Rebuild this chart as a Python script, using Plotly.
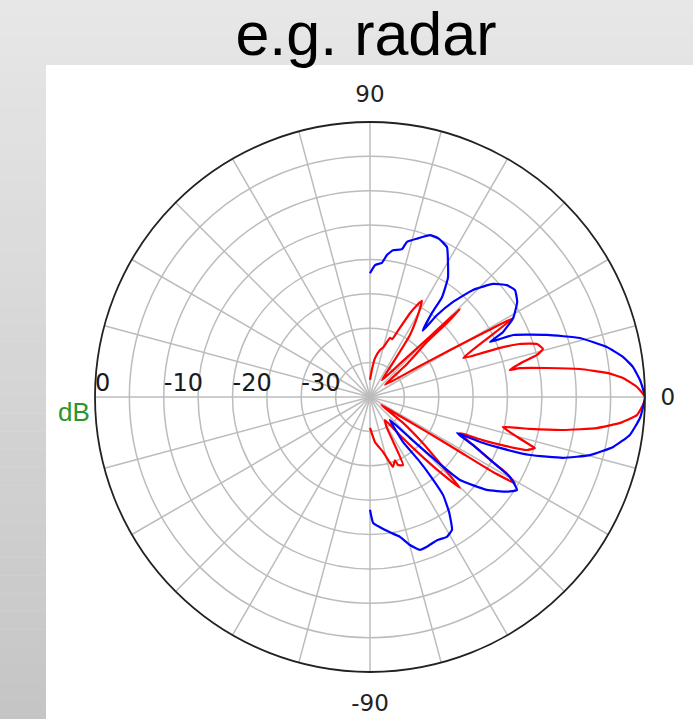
import plotly.graph_objects as go

# ---------------- data ----------------
red_theta = [90, 86, 82.7, 78, 75, 71.3, 69, 67.4, 64.5, 62.9, 61.6, 59.7, 57.2, 56.2, 54.8,
             47.8, 45.8, 44.9, 44.4, 43.9, 44.0, 41.5, 39.0,
             32.0, 30.4, 29.5, 28.9, 26.6, 22.7,
             20.7, 19.5, 17.6, 15.5, 14.1, 12.9, 10.9,
             10.9, 9.3, 7.6, 5.8, 4.3, 2.1, 0,
             -1.7, -3.9, -5.9, -7.8, -9.7, -11.3, -12.7,
             -15.2, -16.7, -17.2, -18.65, -19.9, -21.0, -21.8,
             -25.0, -27.9, -29.05, -30.7, -31.4, -31.4, -31.5, -33.0, -35.0,
             -38.0, -41.0, -43.5, -45.3, -47.0, -49.0, -52.0, -57.0,
             -61.3, -64.1, -67.6, -68.4, -71.8, -73.1, -76.7, -83.7, -90]
red_r = [-37.5, -36, -34.3, -33, -32.5, -30.9, -31, -29.8, -26.5, -25.0, -24.1, -26.2, -29.3, -33.9, -37,
         -33.2, -29.4, -25.5, -21.7, -24.3, -28.5, -33.2, -37.2,
         -31.7, -26.5, -21.4, -16.2, -20.8, -25.3,
         -19.8, -16.9, -14.5, -13.9, -15.0, -17.2, -19.3,
         -17.8, -13.9, -9.2, -5.35, -3.1, -1.1, 0,
         -0.3, -1.1, -3.4, -6.7, -11.5, -16.3, -20.2,
         -17.8, -15.7, -14.9, -15.9, -19.1, -22.5, -25.9,
         -23.5, -19.8, -17.5, -15.5, -19.05, -24.7, -30.3, -36.0, -38.0,
         -34.0, -30.0, -26.0, -21.4, -25.0, -29.0, -33.0, -36.0,
         -34.9, -29.0, -29.3, -30.1, -29.3, -30.0, -31.8, -33.4, -35.5]

blue_theta = [90, 87.8, 84.9, 83.2, 81.1, 77.8, 76.6, 73.2, 69.7, 66.8, 62.8, 59.8, 56.8, 54.2, 53.6, 51.5,
              50.7, 48.9, 46.1, 42.6, 39.3, 36.4, 32.9, 28.9, 26.0, 24.6,
              23.4, 19.3, 15.7, 11.9, 9.0, 6.5, 3.6, 0,
              -4.4, -8.3, -11.6, -14.8, -17.5, -19.9, -21.4, -22.2, -22.5,
              -25.0, -27.9, -29.7, -32.3, -34.7, -38.5, -42.7, -44.1, -45.7, -49.0,
              -53.7, -52.4, -52.6, -53.3, -55.5, -58.3, -61.2, -64.9, -69.2, -71.9,
              -74.9, -77.9, -81.6, -85.6, -88.6, -90]
blue_r = [-22.0, -20.8, -20.4, -19.2, -18.4, -18.0, -16.8, -15.9, -14.9, -14.85, -15.5, -17.45, -19.3, -22.1, -24.8, -27.7,
          -24.6, -21.7, -18.4, -15.7, -14.3, -13.8, -14.5, -16.2, -18.5, -20.8,
          -17.3, -12.7, -8.3, -4.8, -2.75, -1.5, -0.65, 0,
          -0.6, -1.8, -3.9, -6.9, -10.6, -15.2, -19.7, -22.7, -26.3,
          -23.5, -19.8, -16.6, -14.7, -15.8, -18.3, -22.2, -27.2, -31.7, -35.6,
          -31.9, -28.1, -25.2, -22.2, -19.7, -17.3, -16.8, -17.0, -16.7, -16.6,
          -17.7, -19.2, -20.1, -21.0, -21.7, -23.6]

angular_tickvals = list(range(0, 360, 15))
angular_ticktext = ["0" if v == 0 else "90" if v == 90 else "-90" if v == 270 else "" for v in angular_tickvals]
radial_gridvals = [-35, -30, -25, -20, -15, -10, -5, 0]
radial_labelvals = [0, -10, -20, -30]
radial_labeltext = ["0", "-10", "-20", "-30"]

# ---------------- figure ----------------
W, H = 693, 719
fig = go.Figure()
fig.add_trace(go.Scatterpolar(theta=red_theta, r=red_r, mode="lines",
                              line=dict(color="#ff0000", width=2.2, shape="spline", smoothing=0.4),
                              showlegend=False, hoverinfo="skip"))
fig.add_trace(go.Scatterpolar(theta=blue_theta, r=blue_r, mode="lines",
                              line=dict(color="#0000ff", width=2.2, shape="spline", smoothing=0.4),
                              showlegend=False, hoverinfo="skip"))
# radial tick labels (placed by the polar axis itself, to the right of each grid circle)
fig.add_trace(go.Scatterpolar(theta=[180] * len(radial_labelvals), r=radial_labelvals,
                              mode="text", text=radial_labeltext, textposition="top right",
                              textfont=dict(family="DejaVu Sans", size=24, color="#1a1a1a"),
                              cliponaxis=False, showlegend=False, hoverinfo="skip"))

# background gradient bands
shapes = []
n = 40
top = (231, 231, 231)
bot = (197, 197, 197)
for i in range(n):
    t = (i + 0.5) / n
    c = tuple(int(round(top[k] + (bot[k] - top[k]) * t)) for k in range(3))
    shapes.append(dict(type="rect", xref="paper", yref="paper", x0=0, x1=1,
                       y0=1 - (i + 1) / n, y1=1 - i / n, fillcolor="rgb(%d,%d,%d)" % c,
                       line=dict(width=0), layer="below"))
shapes.append(dict(type="rect", xref="paper", yref="paper", x0=46 / W, x1=1,
                   y0=0, y1=1 - 65 / H, fillcolor="white", line=dict(width=0), layer="below"))

cx, cy, R = 370, 397, 275
fig.update_layout(
    width=W, height=H,
    margin=dict(l=0, r=0, t=0, b=0),
    paper_bgcolor="#e0e0e0",
    shapes=shapes,
    title=dict(text="e.g. radar", x=366 / W, xanchor="center", y=1 - 34 / H, yanchor="middle",
               font=dict(family="Liberation Sans, Arial", size=61, color="black")),
    polar=dict(
        domain=dict(x=[(cx - R) / W, (cx + R) / W], y=[(H - cy - R) / H, (H - cy + R) / H]),
        bgcolor="white",
        angularaxis=dict(direction="counterclockwise", rotation=0,
                         tickmode="array", tickvals=angular_tickvals, ticktext=angular_ticktext,
                         showgrid=True, gridcolor="#bcbcbc", gridwidth=1.5,
                         showline=True, linecolor="#222222", linewidth=1.8,
                         ticks="outside", ticklen=10, tickcolor="rgba(0,0,0,0)",
                         tickfont=dict(family="DejaVu Sans", size=23, color="#222222")),
        radialaxis=dict(range=[-40, 0], angle=180,
                        tickmode="array", tickvals=radial_gridvals,
                        showticklabels=False,
                        showgrid=True, gridcolor="#bcbcbc", gridwidth=1.5,
                        showline=False, ticks=""),
    ),
    annotations=[dict(text="dB", xref="paper", yref="paper", x=92 / W, y=1 - 412 / H,
                      xanchor="right", yanchor="middle", showarrow=False,
                      font=dict(family="Liberation Sans, Arial", size=26, color="#2a962a"))],
)

fig.write_html("out.html", config={"displayModeBar": False, "staticPlot": True},
               post_script="document.body.style.margin='0px';")
